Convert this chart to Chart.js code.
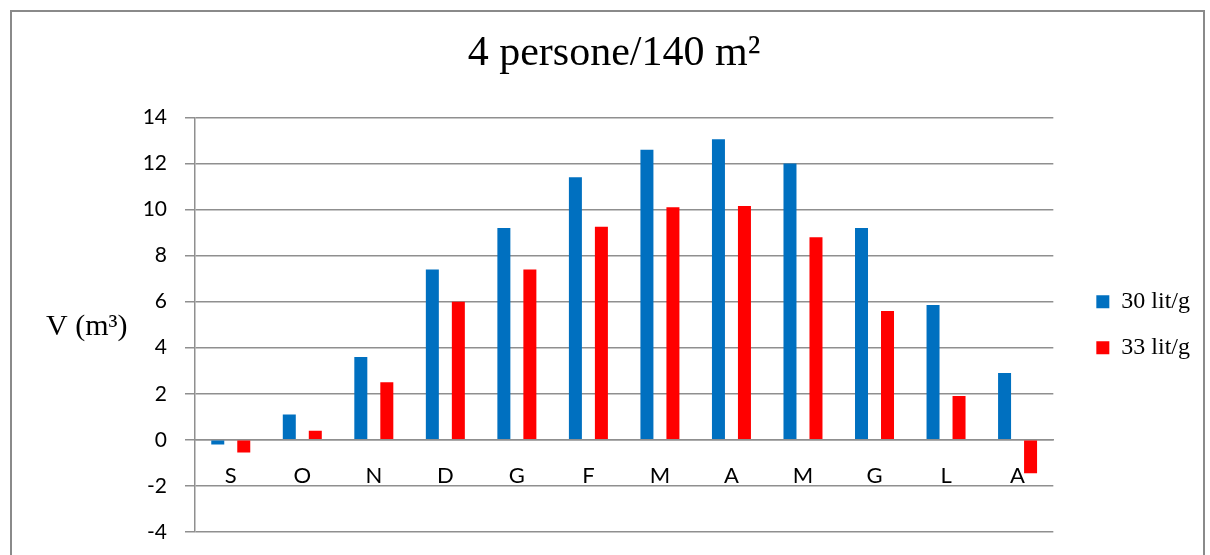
<!DOCTYPE html>
<html>
<head>
<meta charset="utf-8">
<script src="https://cdn.jsdelivr.net/npm/chart.js@4/dist/chart.umd.min.js"></script>
<style>
  html, body { margin: 0; padding: 0; background: #fff; }
  #wrap { width: 1210px; height: 555px; }
</style>
</head>
<body>
<div id="wrap"><canvas id="chart" width="1210" height="555"></canvas></div>
<script>
// Monthly volumes (m³), September to August
const categories = ['S', 'O', 'N', 'D', 'G', 'F', 'M', 'A', 'M', 'G', 'L', 'A'];
const seriesNames = ['30 lit/g', '33 lit/g'];
const volume30 = [-0.2, 1.1, 3.6, 7.4, 9.2, 11.4, 12.6, 13.05, 12.0, 9.2, 5.85, 2.9];
const volume33 = [-0.55, 0.4, 2.5, 6.0, 7.4, 9.25, 10.1, 10.15, 8.8, 5.6, 1.9, -1.45];
const yMin = -4, yMax = 14, yStep = 2;
const titleText = '4 persone/140 m\u00B2';
const yAxisTitle = 'V (m\u00B3)';

const GRID = '#8f8f8f';
const SERIF = '"Liberation Serif", "Times New Roman", serif';
const SANS = 'Lato, "Open Sans", sans-serif';

// White background, outer frame and the horizontal axis caption
const framePlugin = {
  id: 'frame',
  beforeDraw(chart) {
    const ctx = chart.ctx;
    ctx.save();
    ctx.fillStyle = '#fff';
    ctx.fillRect(0, 0, chart.width, chart.height);
    ctx.strokeStyle = '#8a8a8a';
    ctx.lineWidth = 2;
    ctx.strokeRect(11, 11, 1193, 620);
    ctx.restore();
  },
  afterDraw(chart) {
    const ctx = chart.ctx;
    ctx.save();
    ctx.fillStyle = '#000';
    ctx.font = '30px ' + SERIF;
    ctx.textBaseline = 'alphabetic';
    ctx.textAlign = 'left';
    ctx.fillText(yAxisTitle, 46, 335);
    ctx.restore();
  }
};

new Chart(document.getElementById('chart'), {
  type: 'bar',
  data: {
    labels: categories,
    datasets: [
      { label: seriesNames[0], data: volume30, backgroundColor: '#0070C0', borderWidth: 0 },
      { label: seriesNames[1], data: volume33, backgroundColor: '#FF0000', borderWidth: 0 }
    ]
  },
  options: {
    responsive: false,
    animation: false,
    devicePixelRatio: 1,
    categoryPercentage: 0.727,
    barPercentage: 0.5,
    layout: { padding: { left: 28, right: 10, top: 0, bottom: 23 } },
    plugins: {
      title: {
        display: true,
        text: titleText,
        color: '#000',
        font: { family: SERIF, size: 42, weight: 'normal' },
        padding: { top: 29, bottom: 38 }
      },
      legend: {
        position: 'right',
        fullSize: false,
        labels: {
          color: '#000',
          font: { family: SERIF, size: 24 },
          boxWidth: 13,
          boxHeight: 13,
          padding: 22
        }
      },
      tooltip: { enabled: false }
    },
    scales: {
      x: {
        position: { y: 0 },
        grid: { display: false, drawTicks: false },
        border: { display: true, color: GRID, width: 1.5 },
        ticks: { color: '#000', font: { family: SANS, size: 22 }, padding: 23, maxRotation: 0, autoSkip: false }
      },
      y: {
        position: 'left',
        min: yMin,
        max: yMax,
        ticks: { stepSize: yStep, color: '#000', font: { family: SANS, size: 21 }, padding: 18 },
        grid: { color: GRID, lineWidth: 1.5, drawTicks: true, tickLength: 10, tickColor: GRID },
        border: { display: true, color: GRID, width: 1.5 },
        afterFit(scale) {
          scale.width = 167;
          // the outer layout padding already leaves room for the end labels
          scale.paddingTop = 0;
          scale.paddingBottom = 0;
        }
      },
      spacer: {
        type: 'linear',
        position: 'right',
        display: true,
        grid: { display: false, drawTicks: false },
        border: { display: false },
        ticks: { display: false },
        afterFit(scale) { scale.width = 21; }
      }
    }
  },
  plugins: [framePlugin]
});
</script>
</body>
</html>
